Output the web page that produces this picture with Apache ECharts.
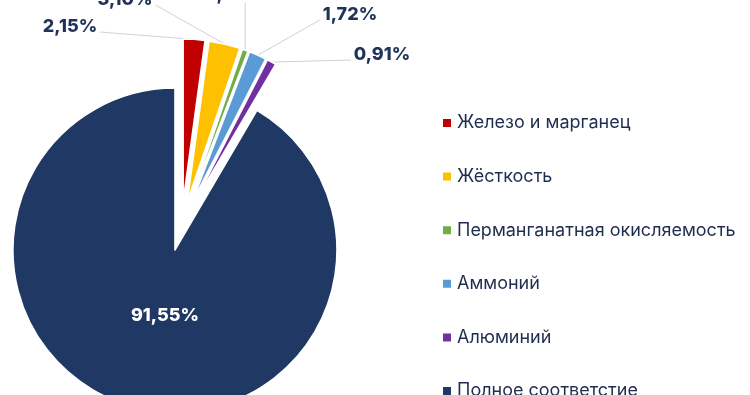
<!DOCTYPE html>
<html><head><meta charset="utf-8">
<script src="https://cdn.jsdelivr.net/npm/echarts@6/dist/echarts.min.js"></script>
<style>html,body{margin:0;padding:0;background:#fff}#c{width:750px;height:395px}</style>
</head><body><div id="c"></div>
<script>
var categories = ['Железо и марганец','Жёсткость','Перманганатная окисляемость','Аммоний','Алюминий','Полное соответстие'];
var values = [2.15, 3.10, 0.57, 1.72, 0.91, 91.55];
var colors = ['#C00000','#FFC000','#70AD47','#5B9BD5','#7030A0','#203864'];
// label anchor positions and leader-line attach sides (layout only)
var labelPos = [[70,27],[125,0],[234,-5],[350,15],[382,55],[165,316]];
var lineSide = ['right','right','bottom','left','left',null];

var chart = echarts.init(document.getElementById('c'), null, {renderer:'canvas'});
var sliceData = categories.map(function(n,i){
  return {name:n, value:values[i], selected:true, itemStyle:{color:colors[i]}};
});
var labelData = categories.map(function(n,i){
  var item = {name:n, value:values[i]};
  if (i === 5) item.label = {position:'inside', color:'#fff'};
  return item;
});
chart.setOption({
  animation:false,
  legend:{
    orient:'vertical', left:441, top:113, padding:0, height:330,
    icon:'rect', itemWidth:10, itemHeight:10, itemGap:33.6,
    textStyle:{fontFamily:'Inter', fontSize:18, color:'#1F2D4E', lineHeight:20},
    selectedMode:false,
    data:categories
  },
  series:[{
    type:'pie',
    center:[181.5,226], radius:162,
    startAngle:90, clockwise:true,
    selectedMode:'multiple', selectedOffset:25,
    itemStyle:{borderColor:'#fff', borderWidth:1.5},
    label:{show:false}, labelLine:{show:false},
    emphasis:{disabled:true},
    data:sliceData
  },{
    type:'pie', silent:true,
    center:[181.5,226], radius:187,
    startAngle:90, clockwise:true,
    selectedMode:false,
    avoidLabelOverlap:false,
    itemStyle:{color:'rgba(0,0,0,0)', borderWidth:0},
    label:{show:true, position:'outside', fontFamily:'Inter', fontWeight:800, fontSize:18, color:'#1F3458',
      formatter:function(p){return p.value.toFixed(2).replace('.',',')+'%';}},
    labelLine:{show:true, lineStyle:{color:'#CDD1D8', width:1}, length:10, length2:0},
    labelLayout:function(p){
      var i = p.dataIndex, pos = labelPos[i];
      var out = {x:pos[0], y:pos[1], align:'center', verticalAlign:'middle'};
      var side = lineSide[i];
      if (side && p.labelLinePoints && p.labelLinePoints.length) {
        var a = p.labelLinePoints[0];
        var w = p.labelRect.width, h = p.labelRect.height, e;
        if (side === 'right') e = [pos[0] + w/2 + 3, pos[1] + 5];
        else if (side === 'left') e = [pos[0] - w/2 - 3, pos[1] + 5];
        else e = [a[0], pos[1] + h/2 - 1];
        out.labelLinePoints = [[a[0], a[1]], [(a[0]+e[0])/2, (a[1]+e[1])/2], e];
      }
      return out;
    },
    emphasis:{disabled:true},
    data:labelData
  }]
});
</script></body></html>
